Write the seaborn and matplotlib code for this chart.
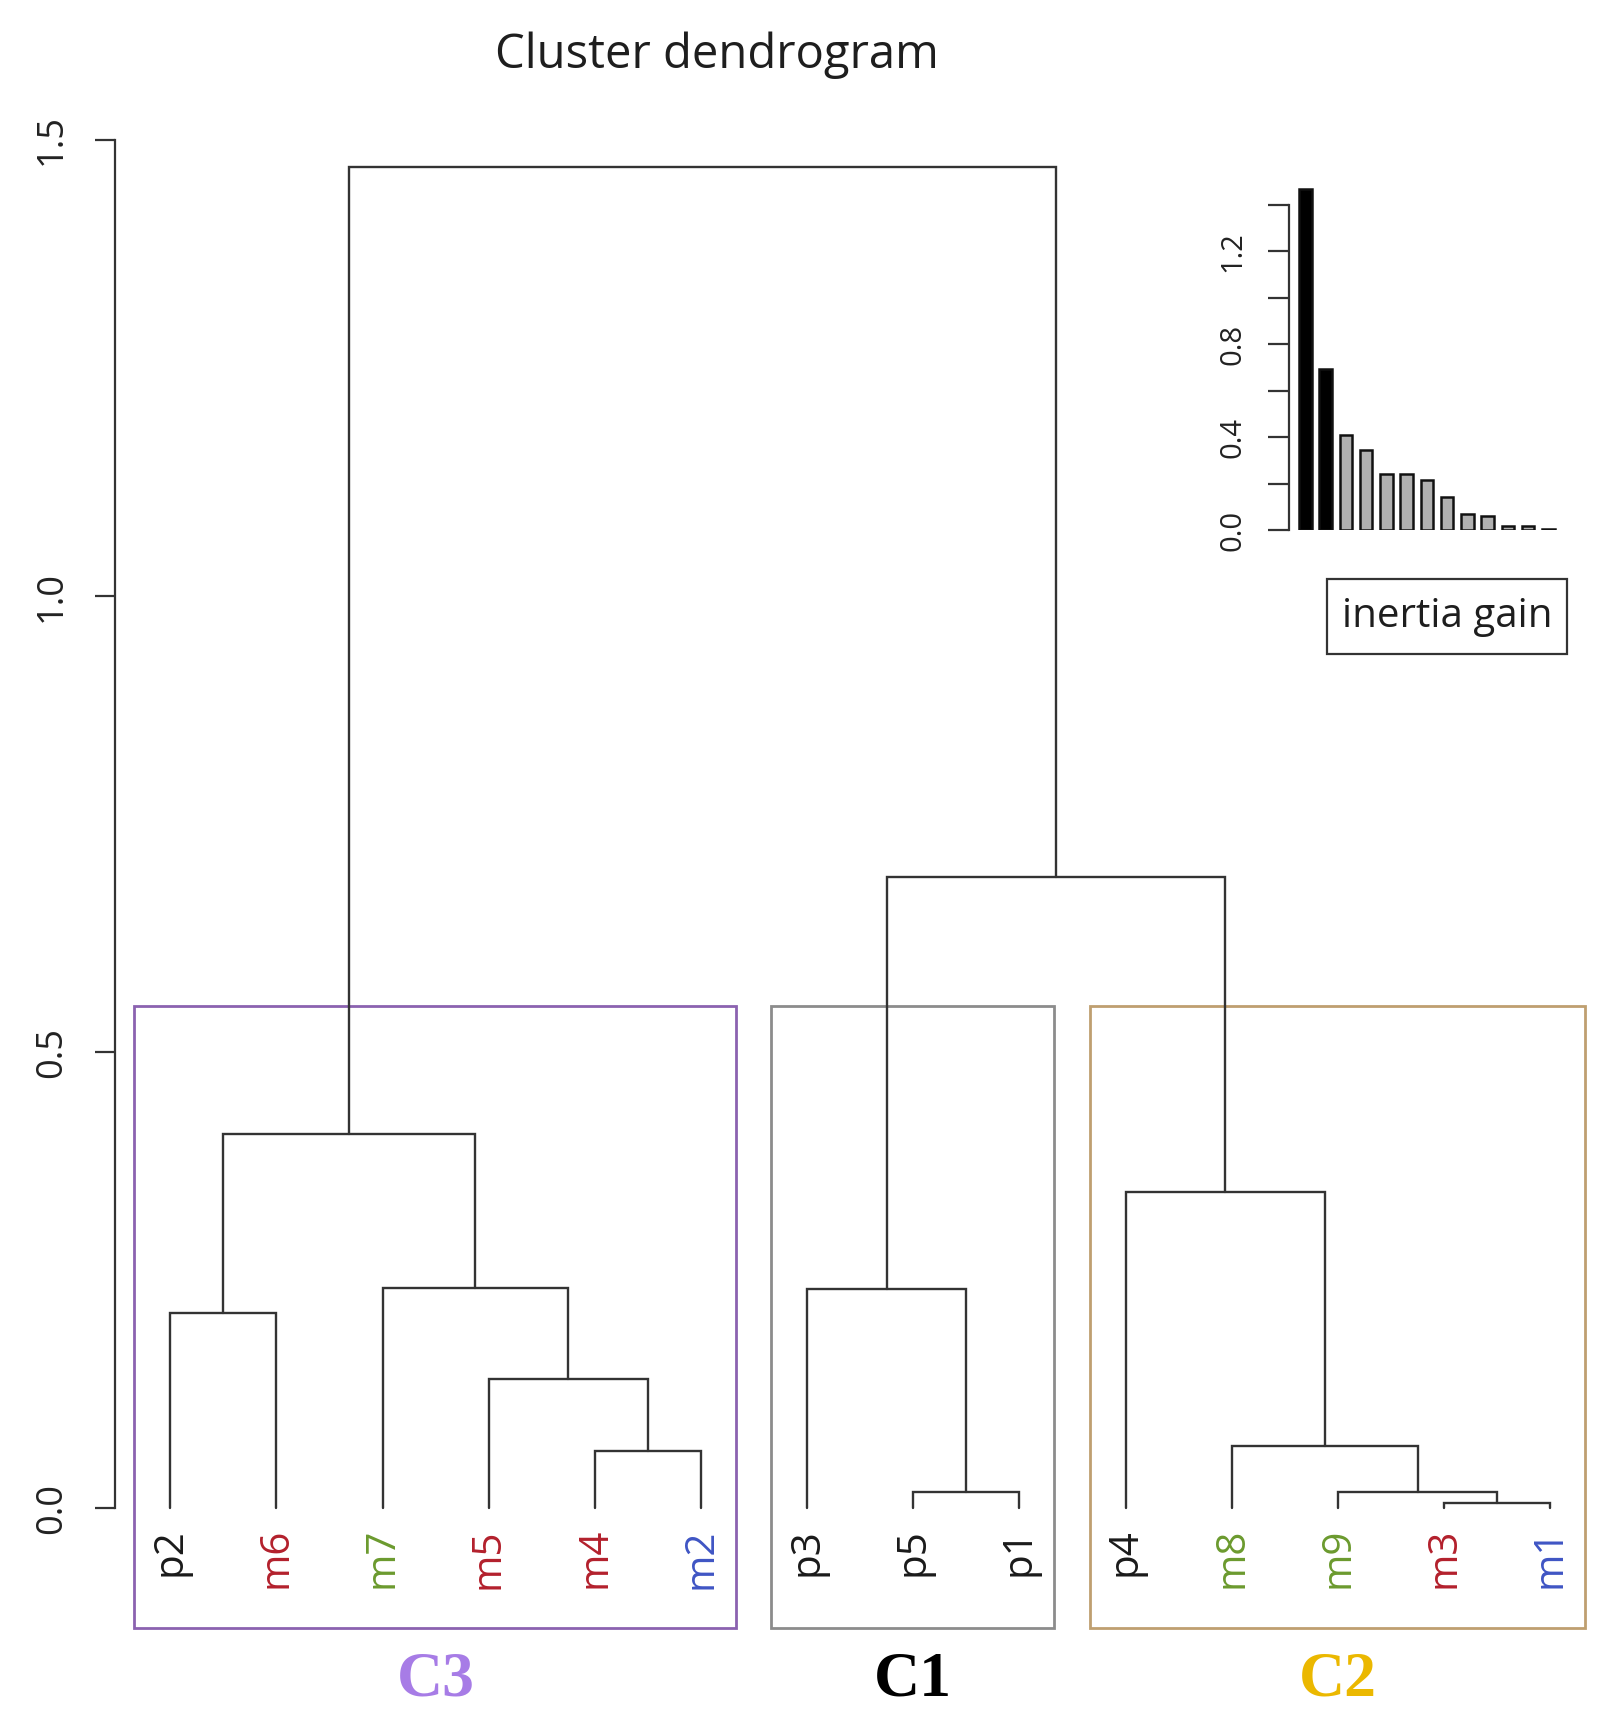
import numpy as np
import pandas as pd
import seaborn as sns
import matplotlib.pyplot as plt
from matplotlib.patches import Rectangle

sns.set_style("white")
plt.rcParams['font.family'] = ['Open Sans', 'DejaVu Sans']

# leaves in dendrogram order, with label colours
leaves = ["p2", "m6", "m7", "m5", "m4", "m2", "p3", "p5", "p1", "p4", "m8", "m9", "m3", "m1"]
leaf_colors = ["#1a1a1a", "#b3202c", "#6b9a2e", "#b3202c", "#b3202c", "#3f55c4",
               "#1a1a1a", "#1a1a1a", "#1a1a1a", "#1a1a1a", "#6b9a2e", "#6b9a2e", "#b3202c", "#3f55c4"]

# merges, bottom-up
merge_names = ["m3m1", "p5p1", "m9g", "m4m2", "m8g", "m5g", "p2m6", "p3g", "m7g", "p4g", "c3", "c1c2", "root"]
merge_left = ["m3", "p5", "m9", "m4", "m8", "m5", "p2", "p3", "m7", "p4", "p2m6", "p3g", "c3"]
merge_right = ["m1", "p1", "m3m1", "m2", "m9g", "m4m2", "m6", "p5p1", "m5g", "m8g", "m7g", "p4g", "c1c2"]
merge_height = [0.006, 0.018, 0.018, 0.062, 0.068, 0.142, 0.214, 0.240, 0.241, 0.346, 0.410, 0.692, 1.470]

# clusters (first leaf, last leaf) for the boxes
cluster_names = ["C3", "C1", "C2"]
cluster_first = ["p2", "p3", "p4"]
cluster_last = ["m2", "p1", "m1"]
cluster_box_colors = ["#8b62b0", "#8c8c8c", "#bf9f70"]
cluster_text_colors = ["#a77ce6", "#000000", "#ebb800"]

yticks = [0.0, 0.5, 1.0, 1.5]
inset_ticks = [0.0, 0.2, 0.4, 0.6, 0.8, 1.0, 1.2, 1.4]
inset_labels = ["0.0", "", "0.4", "", "0.8", "", "1.2", ""]
n_selected = 2

fig = plt.figure(figsize=(16.13, 17.17), dpi=100)
ax = fig.add_axes([0.0713, 0.0518, 0.924, 0.8826])
ymin = -0.1316
ax.set_xlim(0.48, 14.52)
ax.set_ylim(ymin, 1.53)

lc = "#333333"
lw = 1.7
xpos = {name: i + 1 for i, name in enumerate(leaves)}
ypos = {name: 0.0 for name in leaves}
for name, l, r, h in zip(merge_names, merge_left, merge_right, merge_height):
    xl, xr = xpos[l], xpos[r]
    ax.plot([xl, xl, xr, xr], [ypos[l], h, h, ypos[r]], color=lc, lw=lw, solid_joinstyle="miter")
    xpos[name] = (xl + xr) / 2
    ypos[name] = h

for name, col in zip(leaves, leaf_colors):
    ax.text(xpos[name], -0.022, name, rotation=90, ha="center", va="top",
            fontsize=29, color=col)

# cluster boxes like rect.hclust
hs = sorted(merge_height, reverse=True)
box_top = (hs[1] + hs[2]) / 2
for cname, a, b, bc, tc in zip(cluster_names, cluster_first, cluster_last,
                               cluster_box_colors, cluster_text_colors):
    x0 = xpos[a] - 0.34
    x1 = xpos[b] + 0.33
    ax.add_patch(Rectangle((x0, ymin), x1 - x0, box_top - ymin, fill=False,
                           edgecolor=bc, lw=2.0, clip_on=False))
    ax.text((xpos[a] + xpos[b]) / 2, ymin - 0.058, cname, ha="center", va="center",
            fontsize=46, fontweight="bold", family="Liberation Serif", color=tc,
            clip_on=False)

for s in ["top", "right", "bottom"]:
    ax.spines[s].set_visible(False)
ax.spines["left"].set_bounds(0, 1.5)
ax.spines["left"].set_color(lc)
ax.spines["left"].set_linewidth(1.6)
ax.set_xticks([])
ax.set_yticks(yticks)
ax.set_yticklabels(["%.1f" % t for t in yticks], rotation=90, va="center")
ax.tick_params(axis="y", left=True, length=14.4, width=1.6, color=lc, pad=18,
               labelsize=26, labelcolor="#222222")

fig.text(0.4445, 0.968, "Cluster dendrogram", ha="center", va="center",
         fontsize=34, color="#1e1e1e")

# inset: inertia gain
gains = hs
df = pd.DataFrame({"rank": list(range(len(gains))), "gain": gains,
                   "kind": ["sel" if i < n_selected else "other" for i in range(len(gains))]})
ax2 = fig.add_axes([0.7991, 0.6913, 0.1671, 0.2028])
sns.barplot(data=df, x="rank", y="gain", hue="kind", palette={"sel": "black", "other": "#b0b0b0"},
            dodge=False, width=0.62, edgecolor="#111111", linewidth=1.8, legend=False, ax=ax2)
ax2.set_xlim(-0.815, 12.5)
ax2.set_ylim(0, 1.5)
ax2.set_xlabel("")
ax2.set_ylabel("")
ax2.set_xticks([])
for s in ["top", "right", "bottom"]:
    ax2.spines[s].set_visible(False)
ax2.spines["left"].set_bounds(0, 1.4)
ax2.spines["left"].set_color(lc)
ax2.spines["left"].set_linewidth(1.6)
ax2.set_yticks(inset_ticks)
ax2.set_yticklabels(inset_labels, rotation=90, va="center")
ax2.tick_params(axis="y", left=True, length=15, width=1.6, color=lc, pad=15,
                labelsize=21, labelcolor="#222222")
ax2.patch.set_alpha(0)

# legend-like box
fig.patches.append(Rectangle((1327 / 1613, 1 - 654 / 1717), 240 / 1613, 75 / 1717,
                             transform=fig.transFigure, fill=False, edgecolor="#333333", lw=1.6))
fig.text(1447 / 1613, 1 - 617 / 1717, "inertia gain", ha="center", va="center",
         fontsize=29, color="#1e1e1e")

fig.savefig("out.png", dpi=100)
